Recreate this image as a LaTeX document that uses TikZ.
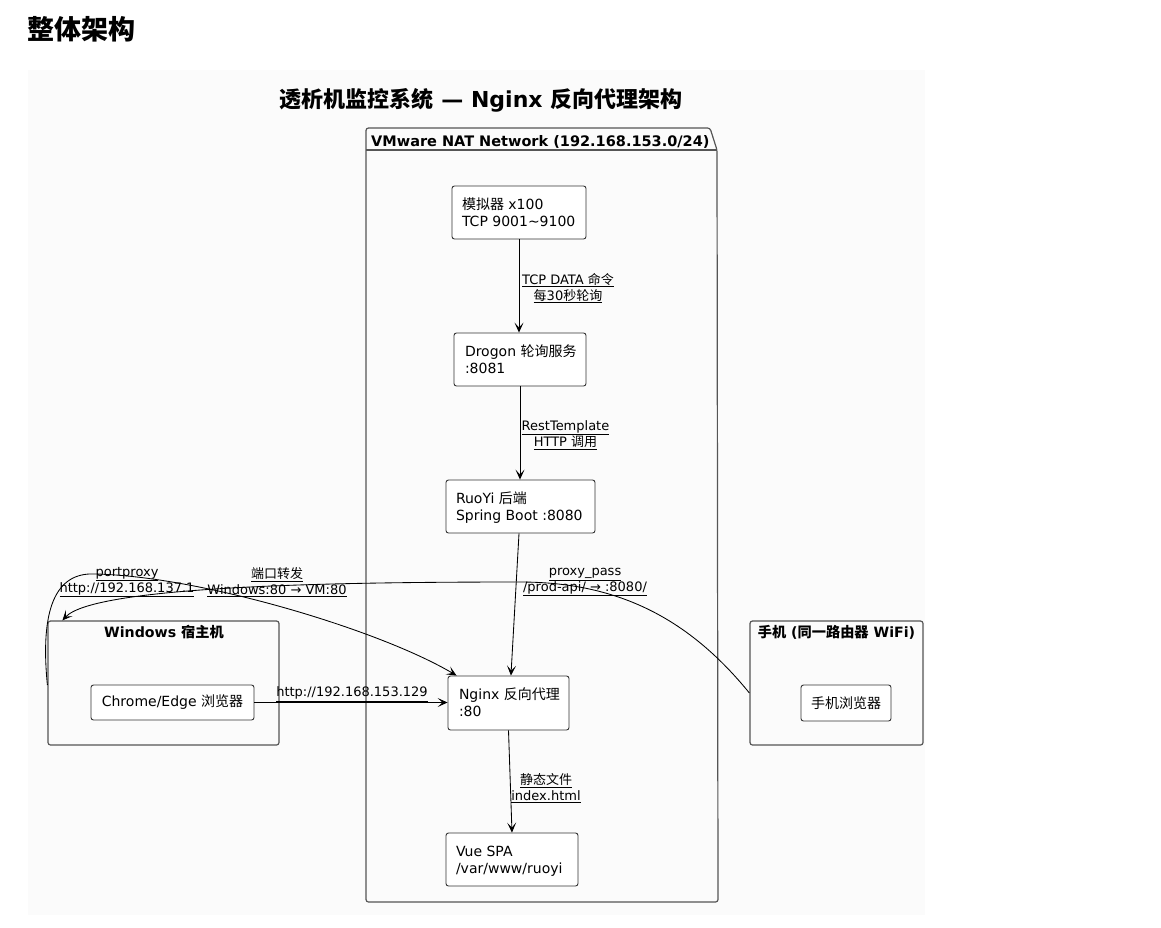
\documentclass[tikz,border=0pt]{standalone}
\usepackage{fontspec}
\setmainfont{DejaVu Sans}
\newfontfamily\zhfont{Noto Sans CJK SC}
\newcommand\zh[1]{{\zhfont #1}}
\newcommand\lefttext[2]{\raisebox{-2pt}[\height][\depth]{\makebox[#1][l]{\begin{tabular}{@{}l@{}}#2\end{tabular}}}}
\usetikzlibrary{arrows.meta,calc}
\definecolor{panelbg}{HTML}{FBFBFB}
\definecolor{pkgline}{HTML}{555555}
\definecolor{boxline}{HTML}{333333}
\begin{document}
\begin{tikzpicture}[x=1pt,y=-1pt,
  box/.style={draw=boxline, line width=0.9pt, rounded corners=2.5pt, fill=white, inner xsep=10pt, inner ysep=0pt, font=\fontsize{14}{17}\selectfont},
  cbox/.style={draw=boxline, line width=0.9pt, rounded corners=2.5pt, fill=white, inner sep=0pt, align=center, font=\fontsize{14}{17}\selectfont},
  grp/.style={draw=pkgline, line width=1.2pt, rounded corners=2.5pt, inner sep=0pt},
  gtitle/.style={anchor=base, inner sep=0pt, font=\fontsize{14.2}{17}\selectfont\bfseries},
  lbl/.style={align=center, font=\fontsize{13}{16}\selectfont, inner sep=0pt},
  conn/.style={draw=black, line width=0.85pt, -{Stealth[length=10pt,width=9pt,inset=5pt]}},
]
\useasboundingbox (0,0) rectangle (1161,927);
\fill[panelbg] (28,70) rectangle (925,915);

\node[anchor=base west, inner sep=0pt, font=\fontsize{27}{30}\selectfont\bfseries] (heading) at (27,39) {\zh{整体架构}};
\node[anchor=base, inner sep=0pt, font=\fontsize{22}{25}\selectfont\bfseries] (title) at (481,107) {\zh{透析机监控系统} — Nginx \zh{反向代理架构}};

% VMware package
\draw[draw=pkgline, line width=1.2pt, rounded corners=2.5pt] (366,902) -- (366,128) -- (710,128) -- (717,150) -- (718,902) -- cycle;
\draw[pkgline, line width=1.2pt] (366,150) -- (717,150);
\node[anchor=base west, inner sep=0pt, font=\fontsize{14.5}{17}\selectfont\bfseries] (vmt) at (371,146) {VMware NAT Network (192.168.153.0/24)};

% nodes in VM
\node[box, minimum height=53pt] (sim) at (519,212.5) {\lefttext{114pt}{\zh{模拟器} x100\\TCP 9001\char`\~9100}};
\node[box, minimum height=53pt, inner xsep=11pt] (drogon) at (520,359.5) {\lefttext{110pt}{Drogon \zh{轮询服务}\\:8081}};
\node[box, minimum height=53pt] (ruoyi) at (520.5,506.5) {\lefttext{129pt}{RuoYi \zh{后端}\\Spring Boot :8080}};
\node[box, minimum height=54pt, inner xsep=11pt] (nginx) at (508.5,703) {\lefttext{99pt}{Nginx \zh{反向代理}\\:80}};
\node[box, minimum height=53pt] (vue) at (512,859.5) {\lefttext{112pt}{Vue SPA\\/var/www/ruoyi}};

% Windows host
\node[grp, minimum width=231pt, minimum height=124pt] (win) at (163.5,683) {};
\node[gtitle] (wint) at (164,637) {Windows \zh{宿主机}};
\node[cbox, minimum width=163pt, minimum height=35pt] (chrome) at (172.5,702.5) {Chrome/Edge \zh{浏览器}};

% Phone
\node[grp, minimum width=173pt, minimum height=124pt] (ph) at (836.5,683) {};
\node[gtitle] (pht) at (836.5,637) {\zh{手机} (\zh{同一路由器} WiFi)};
\node[cbox, minimum width=90pt, minimum height=36pt] (phb) at (846,703) {\zh{手机浏览器}};

% connectors
\draw[conn] (sim.south) -- (sim.south |- drogon.north);
\draw[conn] (drogon.south) -- (drogon.south |- ruoyi.north);
\draw[conn] ($(ruoyi.south)+(-1.5,0)$) -- ($(nginx.north west)!0.52!(nginx.north east)$);
\draw[conn] (chrome.east) -- (chrome.east -| nginx.west);
\draw[conn] (nginx.south) -- (vue.north);
\draw[conn] ($(win.west)+(0,2)$) .. controls (40,610) and (55,572) .. (95,574) .. controls (200,576) and (380,630) .. ($(nginx.north west)+(9,0)$);
\draw[conn] ($(ph.west)+(0,10)$) .. controls (690,620) and (620,582) .. (520,582) .. controls (350,582) and (95,585) .. ($(win.north west)+(15,0)$);

% labels
\node[lbl] (l1) at (568,288) {\underline{TCP DATA \zh{命令}}\\\underline{\zh{每}30\zh{秒轮询}}};
\node[lbl] (l2) at (565.5,435) {\underline{RestTemplate}\\\underline{HTTP \zh{调用}}};
\node[lbl] (l3) at (585,582) {\underline{proxy\_pass}\\\underline{/prod-api/ → :8080/}};
\node[lbl] (l4) at (352,694) {\underline{http://192.168.153.129}};
\node[lbl] (l5) at (546,788) {\underline{\zh{静态文件}}\\\underline{index.html}};
\node[lbl] (l6) at (127,582) {\underline{portproxy}\\\underline{http://192.168.137.1}};
\node[lbl] (l7) at (277,582) {\underline{\zh{端口转发}}\\\underline{Windows:80 → VM:80}};
\end{tikzpicture}
\end{document}
